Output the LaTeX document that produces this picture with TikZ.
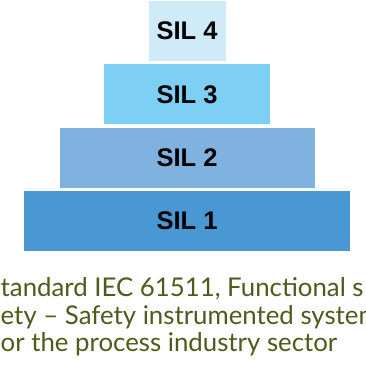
\documentclass[tikz,border=0pt]{standalone}
\usepackage{fontspec}
\setmainfont{Lato}
\newfontfamily\labelfont{Liberation Sans}
\usetikzlibrary{positioning}

\definecolor{silfour}{RGB}{207,235,248}
\definecolor{silthree}{RGB}{125,207,243}
\definecolor{siltwo}{RGB}{127,178,223}
\definecolor{silone}{RGB}{74,152,211}
\definecolor{caption}{RGB}{80,90,30}

\begin{document}
\begin{tikzpicture}[
    x = 1pt,
    y = -1pt,
    tier/.style = {
      fill,
      inner sep = 0pt,
      minimum height = 60pt,
      font = \labelfont\bfseries\fontsize{25.5}{25.5}\selectfont
    },
    capline/.style = {
      anchor = base west,
      inner sep = 0pt,
      text = caption,
      font = \fontsize{25.8}{27.5}\selectfont
    }
  ]
  \useasboundingbox (0,0) rectangle (366,383);
  \clip (0,0) rectangle (366,383);
  \coordinate (T) at (187,31);
  \scope[node distance = 3pt]
    \node[tier, fill=silfour, minimum width=77pt] (sil4) at (T) {SIL 4};
    \node[tier, fill=silthree, minimum width=166pt, below=of sil4] (sil3) {SIL 3};
    \node[tier, fill=siltwo, minimum width=255pt, below=of sil3] (sil2) {SIL 2};
    \node[tier, fill=silone, minimum width=326pt, below=of sil2] (sil1) {SIL 1};
  \endscope

  \scope[]
    \node[capline] (line1) at (0.5,296.7) {tandard IEC 61511, Functional s};
    \node[capline] (line2) at (0.5,324) {ety – Safety instrumented system};
    \node[capline] (line3) at (0.5,351.7) {or the process industry sector};
  \endscope
\end{tikzpicture}
\end{document}
